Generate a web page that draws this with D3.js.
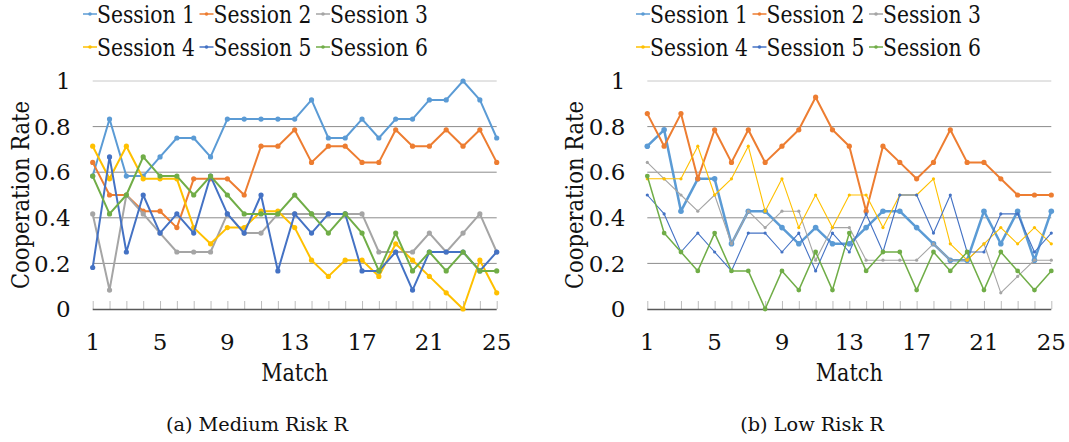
<!DOCTYPE html>
<html lang="en">

<head>
    <meta charset="UTF-8">
    <title>Cooperation Rate per Match</title>
    <script src="https://d3js.org/d3.v7.min.js"></script>
    <style>
        body {
            margin: 0;
            background: #fff;
        }

        svg text {
            font-family: "DejaVu Serif", serif;
            fill: #111;
        }
    </style>
</head>

<body>
    <script>
        const width = 1069;
        const height = 442;

        // x categories and tick labels
        const matches = [1, 2, 3, 4, 5, 6, 7, 8, 9, 10, 11, 12, 13, 14, 15, 16, 17, 18, 19, 20, 21, 22, 23, 24, 25];
        const xTickLabels = [1, 5, 9, 13, 17, 21, 25];
        const yTicks = [0, 0.2, 0.4, 0.6, 0.8, 1];
        const sessionNames = ["Session 1", "Session 2", "Session 3", "Session 4", "Session 5", "Session 6"];
        const sessionColors = ["#5b9bd5", "#ed7d31", "#a5a5a5", "#ffc000", "#4472c4", "#70ad47"];

        // (a) Medium Risk R
        const medium1 = [0.583, 0.833, 0.583, 0.583, 0.667, 0.75, 0.75, 0.667, 0.833, 0.833, 0.833, 0.833, 0.833, 0.917, 0.75, 0.75, 0.833, 0.75, 0.833, 0.833, 0.917, 0.917, 1, 0.917, 0.75];
        const medium2 = [0.643, 0.5, 0.5, 0.429, 0.429, 0.357, 0.571, 0.571, 0.571, 0.5, 0.714, 0.714, 0.786, 0.643, 0.714, 0.714, 0.643, 0.643, 0.786, 0.714, 0.714, 0.786, 0.714, 0.786, 0.643];
        const medium3 = [0.417, 0.083, 0.5, 0.417, 0.333, 0.25, 0.25, 0.25, 0.417, 0.333, 0.333, 0.417, 0.417, 0.417, 0.417, 0.417, 0.417, 0.25, 0.25, 0.25, 0.333, 0.25, 0.333, 0.417, 0.25];
        const medium4 = [0.714, 0.571, 0.714, 0.571, 0.571, 0.571, 0.357, 0.286, 0.357, 0.357, 0.429, 0.429, 0.357, 0.214, 0.143, 0.214, 0.214, 0.143, 0.286, 0.214, 0.143, 0.071, 0, 0.214, 0.071];
        const medium5 = [0.182, 0.667, 0.25, 0.5, 0.333, 0.417, 0.333, 0.583, 0.417, 0.333, 0.5, 0.167, 0.417, 0.333, 0.417, 0.417, 0.167, 0.167, 0.25, 0.083, 0.25, 0.25, 0.25, 0.167, 0.25];
        const medium6 = [0.583, 0.417, 0.5, 0.667, 0.583, 0.583, 0.5, 0.583, 0.5, 0.417, 0.417, 0.417, 0.5, 0.417, 0.333, 0.417, 0.333, 0.167, 0.333, 0.167, 0.25, 0.167, 0.25, 0.167, 0.167];

        // (b) Low Risk R
        const low1 = [0.714, 0.786, 0.429, 0.571, 0.571, 0.286, 0.429, 0.429, 0.357, 0.286, 0.357, 0.286, 0.286, 0.357, 0.429, 0.429, 0.357, 0.286, 0.214, 0.214, 0.429, 0.286, 0.429, 0.214, 0.429];
        const low2 = [0.857, 0.714, 0.857, 0.571, 0.786, 0.643, 0.786, 0.643, 0.714, 0.786, 0.929, 0.786, 0.714, 0.429, 0.714, 0.643, 0.571, 0.643, 0.786, 0.643, 0.643, 0.571, 0.5, 0.5, 0.5];
        const low3 = [0.643, 0.571, 0.5, 0.429, 0.5, 0.286, 0.429, 0.357, 0.429, 0.429, 0.214, 0.357, 0.357, 0.214, 0.214, 0.214, 0.214, 0.286, 0.214, 0.214, 0.286, 0.071, 0.143, 0.214, 0.214];
        const low4 = [0.571, 0.571, 0.571, 0.714, 0.5, 0.571, 0.714, 0.429, 0.571, 0.357, 0.5, 0.357, 0.5, 0.5, 0.357, 0.5, 0.5, 0.571, 0.286, 0.214, 0.286, 0.357, 0.286, 0.357, 0.286];
        const low5 = [0.5, 0.417, 0.25, 0.333, 0.25, 0.167, 0.333, 0.333, 0.25, 0.333, 0.167, 0.333, 0.25, 0.417, 0.25, 0.5, 0.5, 0.333, 0.5, 0.25, 0.25, 0.417, 0.417, 0.25, 0.333];
        const low6 = [0.583, 0.333, 0.25, 0.167, 0.333, 0.167, 0.167, 0, 0.167, 0.083, 0.25, 0.083, 0.333, 0.167, 0.25, 0.25, 0.083, 0.25, 0.167, 0.25, 0.083, 0.25, 0.167, 0.083, 0.167];

        const svg = d3.select("body").append("svg")
            .attr("width", width)
            .attr("height", height);

        const fontSize = 23.5;
        const tickFontSize = 23;

        function drawPanel(p) {
            const x = d3.scaleLinear().domain([1, 25]).range([p.left, p.left + 404]);
            const y = d3.scaleLinear().domain([0, 1]).range([309, 81]);
            const g = svg.append("g");

            // gridlines
            g.append("g").selectAll("line")
                .data(yTicks.filter(t => t > 0))
                .enter().append("line")
                .attr("x1", x(1)).attr("x2", x(25))
                .attr("y1", d => y(d)).attr("y2", d => y(d))
                .attr("stroke", d => d === 1 ? "#c8c8c8" : "#8c8c8c")
                .attr("stroke-width", 1);

            // y labels
            g.append("g").selectAll("text")
                .data(yTicks)
                .enter().append("text")
                .attr("x", x(1) - 22)
                .attr("y", d => y(d))
                .attr("dy", "0.36em")
                .attr("text-anchor", "end")
                .attr("font-size", tickFontSize)
                .text(d => d3.format("~g")(d));

            // x axis with small upward ticks at every match
            const xAxis = d3.axisTop(x).tickValues(matches).tickSize(8).tickFormat("");
            const ax = g.append("g").attr("transform", `translate(0,${y(0)})`).call(xAxis);
            ax.select(".domain").remove();
            ax.selectAll(".tick line").attr("stroke", "#bdbdbd");
            g.append("line")
                .attr("x1", x(1)).attr("x2", x(25))
                .attr("y1", y(0) + 0.5).attr("y2", y(0) + 0.5)
                .attr("stroke", "#595959").attr("stroke-width", 1.5);

            g.append("g").selectAll("text")
                .data(xTickLabels)
                .enter().append("text")
                .attr("x", d => x(d))
                .attr("y", 349.5)
                .attr("text-anchor", "middle")
                .attr("font-size", tickFontSize)
                .text(d => d);

            g.append("text")
                .attr("x", (x(1) + x(25)) / 2)
                .attr("y", 381)
                .attr("text-anchor", "middle")
                .attr("font-size", fontSize)
                .attr("textLength", 67)
                .attr("lengthAdjust", "spacingAndGlyphs")
                .text("Match");

            g.append("text")
                .attr("transform", `translate(${x(1) - 64},${(y(0) + y(1)) / 2}) rotate(-90)`)
                .attr("text-anchor", "middle")
                .attr("font-size", fontSize)
                .attr("textLength", 188)
                .attr("lengthAdjust", "spacingAndGlyphs")
                .text("Cooperation Rate");

            // series
            const line = d3.line().x((d, i) => x(matches[i])).y(d => y(d));
            p.series.forEach((vals, s) => {
                const st = p.styles[s];
                g.append("path")
                    .datum(vals)
                    .attr("fill", "none")
                    .attr("stroke", sessionColors[s])
                    .attr("stroke-width", st.w)
                    .attr("stroke-linejoin", "round")
                    .attr("d", line);
                g.append("g").selectAll("circle")
                    .data(vals)
                    .enter().append("circle")
                    .attr("cx", (d, i) => x(matches[i]))
                    .attr("cy", d => y(d))
                    .attr("r", st.r)
                    .attr("fill", sessionColors[s]);
            });

            // legend, two rows of three
            const legend = g.append("g");
            sessionNames.forEach((name, s) => {
                const lx = p.legendX + (s % 3) * 116.5;
                const ly = s < 3 ? 14 : 47;
                legend.append("line")
                    .attr("x1", lx).attr("x2", lx + 14)
                    .attr("y1", ly).attr("y2", ly)
                    .attr("stroke", sessionColors[s]).attr("stroke-width", 1.5);
                legend.append("circle")
                    .attr("cx", lx + 7).attr("cy", ly).attr("r", 1.8)
                    .attr("fill", sessionColors[s]);
                legend.append("text")
                    .attr("x", lx + 14)
                    .attr("y", ly + 8.5)
                    .attr("font-size", fontSize)
                    .attr("textLength", 98)
                    .attr("lengthAdjust", "spacingAndGlyphs")
                    .text(name);
            });

            svg.append("text")
                .attr("x", p.captionX)
                .attr("y", 431)
                .attr("text-anchor", "middle")
                .attr("font-size", 19.3)
                .text(p.caption);
        }

        const thick = { w: 2, r: 2.6 };
        drawPanel({
            left: 92.7,
            legendX: 83,
            captionX: 257,
            caption: "(a) Medium Risk R",
            series: [medium1, medium2, medium3, medium4, medium5, medium6],
            styles: [thick, thick, thick, thick, thick, thick]
        });

        drawPanel({
            left: 647.3,
            legendX: 636,
            captionX: 812,
            caption: "(b) Low Risk R",
            series: [low1, low2, low3, low4, low5, low6],
            styles: [{ w: 2.5, r: 2.8 }, { w: 2, r: 2.6 }, { w: 1.1, r: 1.6 }, { w: 1.1, r: 1.6 }, { w: 1.1, r: 1.6 }, { w: 1.5, r: 2.4 }]
        });
    </script>
</body>

</html>
